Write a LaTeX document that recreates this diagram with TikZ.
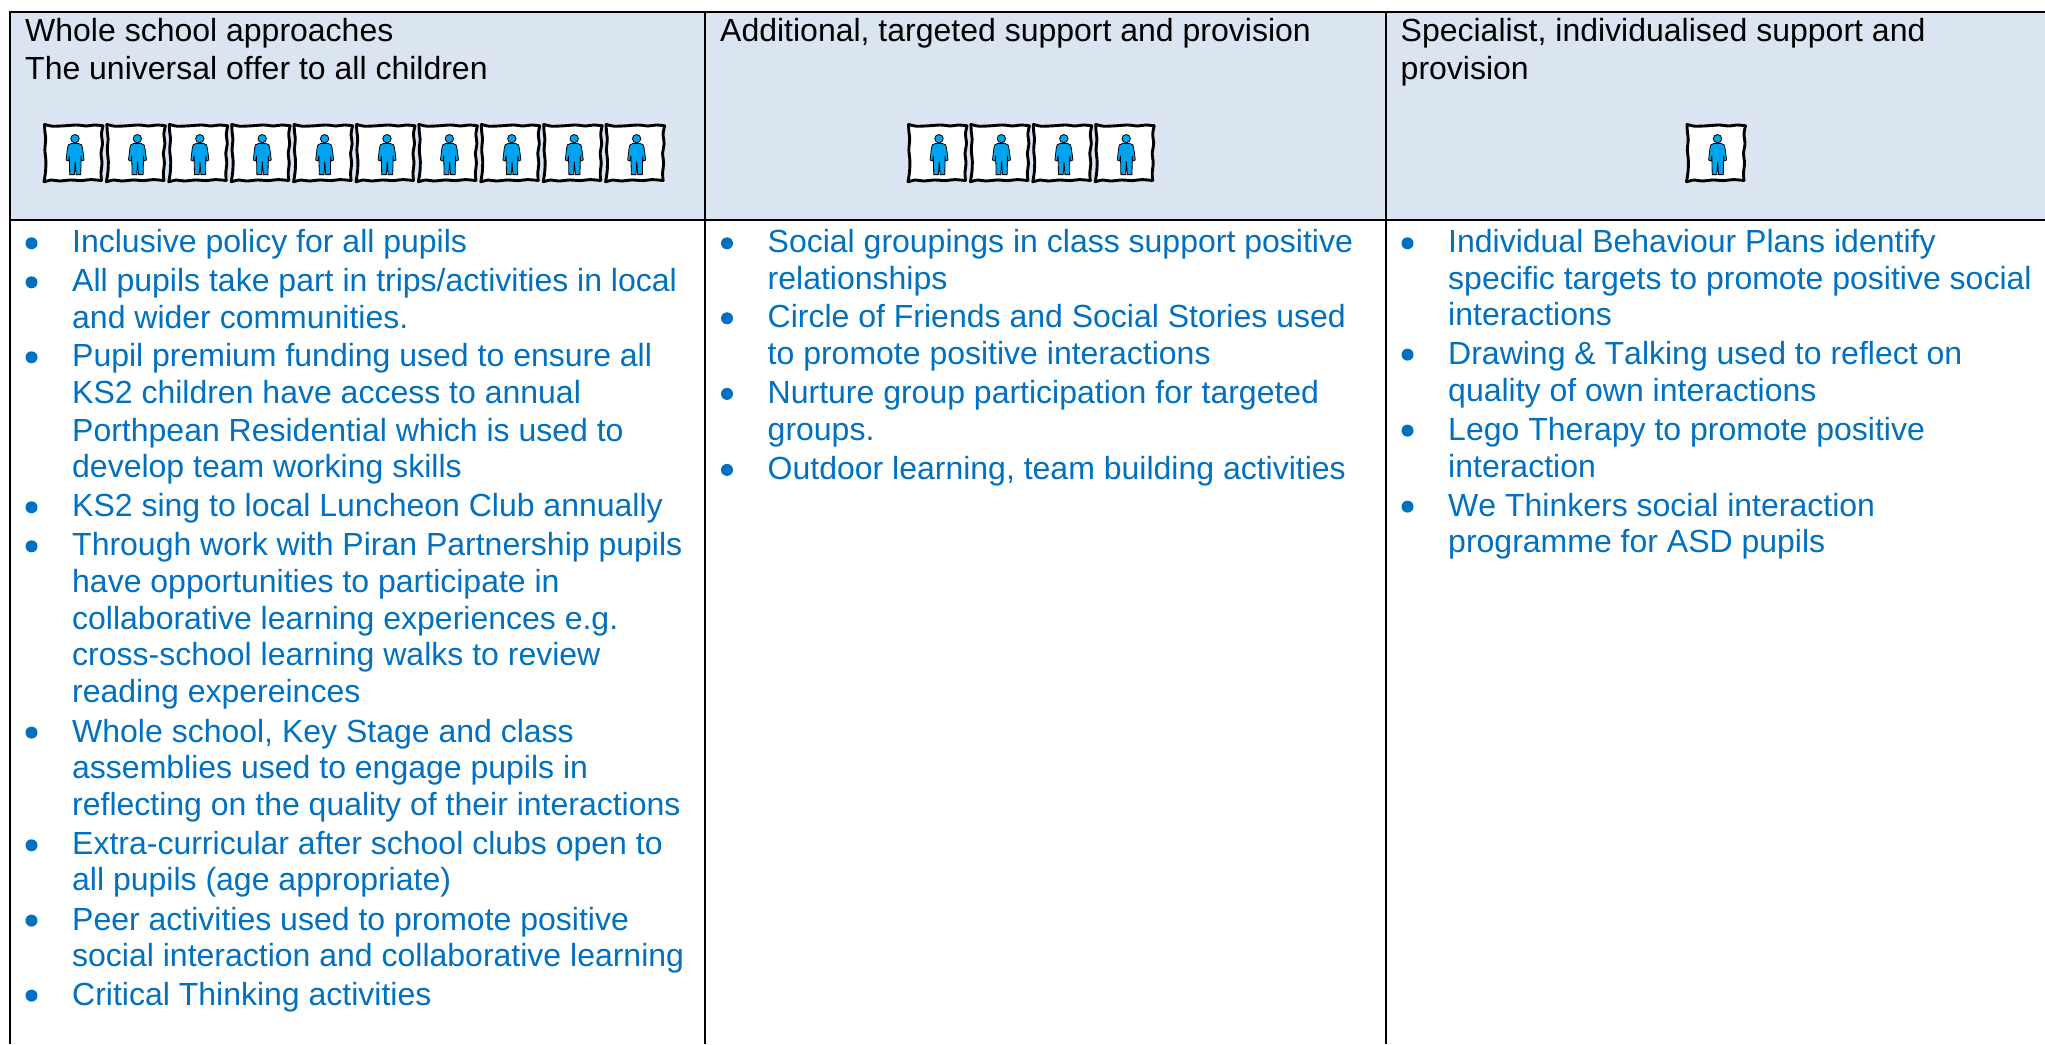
\documentclass[tikz,border=0pt]{standalone}
\usepackage{fontspec}
\setmainfont[Kerning=Off,Ligatures=NoCommon]{Liberation Sans}
\definecolor{headfill}{HTML}{DBE5F1}
\definecolor{bodyblue}{HTML}{0070C0}
\definecolor{pupilblue}{HTML}{00A3EE}
\newcommand{\bodyfont}{\fontsize{32}{37}\selectfont}
\tikzset{
  tableline/.style={draw=black,line width=2.4pt},
  headtext/.style={anchor=base west,inner sep=0pt,text=black,font=\bodyfont},
  bodytext/.style={anchor=base west,inner sep=0pt,text=bodyblue,font=\bodyfont},
  pupilframe/.style={draw=black,line width=2.9pt,line cap=round,line join=round},
  pupil/.pic={
    \fill[white] (-28.5,-28) -- (28.5,-28) -- (28.5,28) -- (-28.5,28) -- cycle;
    \draw[pupilframe] plot[smooth] coordinates {(-29,-28.6) (-21,-26.8) (-9,-27.2) (3,-28) (13,-27) (21,-28) (29.5,-27.2)};
    \draw[pupilframe] plot[smooth] coordinates {(29.5,-27.2) (28,-19) (29,-9) (27.5,0) (28.5,10) (27.5,20) (28,27.5)};
    \draw[pupilframe] plot[smooth] coordinates {(28,27.5) (17,26.6) (8,27.6) (-3,27) (-14,28) (-22,27) (-29.5,28.8)};
    \draw[pupilframe] plot[smooth] coordinates {(-29.5,28.8) (-28,19) (-27.6,8) (-28.6,-3) (-27.8,-14) (-28.6,-21) (-29,-28.6)};
    \fill[pupilblue,draw=black,line width=.8pt] (1.5,-14.3) circle (4.2);
    \fill[pupilblue,draw=black,line width=.8pt,line join=round]
      (-2,-9.5) -- (5,-9.5) .. controls (8,-9) and (9,-8) .. (9,-5)
      -- (10.6,7) -- (8,8) -- (7.6,3) -- (7.3,21.6) -- (2.6,21.6) -- (1.7,9) -- (0.9,21.6)
      -- (-3.8,21.6) -- (-4.2,3) -- (-5,8) -- (-7.4,7) -- (-6,-5)
      .. controls (-6,-8) and (-5,-9) .. (-2,-9.5) -- cycle;
  }
}
\newcommand{\headline}[4]{\node[headtext] (#1) at (#2,#3) {#4};}
\newcommand{\plainline}[4]{\node[bodytext] (#1) at (#2,#3) {#4};}
\newcommand{\bulletline}[4]{\fill[bodyblue] ({#2-40.5},{#3-9.4}) circle (6);\plainline{#1}{#2}{#3}{#4}}
\begin{document}
\begin{tikzpicture}[x=1pt,y=-1pt]
\useasboundingbox (0,0) rectangle (2045,1044);
\fill[white] (0,0) rectangle (2045,1044);
\fill[headfill] (10,12) rectangle (2045,220);
\draw[tableline] (2045,12) -- (10,12) -- (10,1044);
\draw[tableline] (10,220) -- (2045,220);
\draw[tableline] (705,12) -- (705,1044);
\draw[tableline] (1386,12) -- (1386,1044);

\headline{ha}{25}{41.7}{Whole school approaches}
\headline{hb}{25}{79}{The universal offer to all children}
\headline{hc}{720}{41.7}{Additional, targeted support and provision}
\headline{hd}{1400.5}{41.7}{Specialist, individualised support and}
\headline{he}{1400.5}{79}{provision}

\foreach \i in {0,...,9} \pic at ({73.5+62.4*\i},153) {pupil};
\foreach \i in {0,...,3} \pic at ({937.5+62.4*\i},153) {pupil};
\pic at (1716,153) {pupil};

\bulletline{a1}{72}{252.7}{Inclusive policy for all pupils}
\bulletline{a2}{72}{291.7}{All pupils take part in trips/activities in local}
\plainline{a3}{72}{328}{and wider communities.}
\bulletline{a4}{72}{366.7}{Pupil premium funding used to ensure all}
\plainline{a5}{72}{403.7}{KS2 children have access to annual}
\plainline{a6}{72}{441}{Porthpean Residential which is used to}
\plainline{a7}{72}{477.7}{develop team working skills}
\bulletline{a8}{72}{516.7}{KS2 sing to local Luncheon Club annually}
\bulletline{a9}{72}{555.7}{Through work with Piran Partnership pupils}
\plainline{a10}{72}{592.7}{have opportunities to participate in}
\plainline{a11}{72}{629.3}{collaborative learning experiences e.g.}
\plainline{a12}{72}{665.7}{cross-school learning walks to review}
\plainline{a13}{72}{702.7}{reading expereinces}
\bulletline{a14}{72}{742}{Whole school, Key Stage and class}
\plainline{a15}{72}{778.7}{assemblies used to engage pupils in}
\plainline{a16}{72}{815.7}{reflecting on the quality of their interactions}
\bulletline{a17}{72}{854.7}{Extra-curricular after school clubs open to}
\plainline{a18}{72}{890.7}{all pupils (age appropriate)}
\bulletline{a19}{72}{930}{Peer activities used to promote positive}
\plainline{a20}{72}{966}{social interaction and collaborative learning}
\bulletline{a21}{72}{1005}{Critical Thinking activities}

\bulletline{b1}{767.5}{252.7}{Social groupings in class support positive}
\plainline{b2}{767.5}{289.3}{relationships}
\bulletline{b3}{767.5}{327.7}{Circle of Friends and Social Stories used}
\plainline{b4}{767.5}{364.3}{to promote positive interactions}
\bulletline{b5}{767.5}{403.3}{Nurture group participation for targeted}
\plainline{b6}{767.5}{440}{groups.}
\bulletline{b7}{767.5}{479.3}{Outdoor learning, team building activities}

\bulletline{c1}{1448}{252.7}{Individual Behaviour Plans identify}
\plainline{c2}{1448}{289}{specific targets to promote positive social}
\plainline{c3}{1448}{325.7}{interactions}
\bulletline{c4}{1448}{364}{Drawing \& Talking used to reflect on}
\plainline{c5}{1448}{401}{quality of own interactions}
\bulletline{c6}{1448}{440}{Lego Therapy to promote positive}
\plainline{c7}{1448}{477.3}{interaction}
\bulletline{c8}{1448}{516}{We Thinkers social interaction}
\plainline{c9}{1448}{552.3}{programme for ASD pupils}
\end{tikzpicture}
\end{document}
